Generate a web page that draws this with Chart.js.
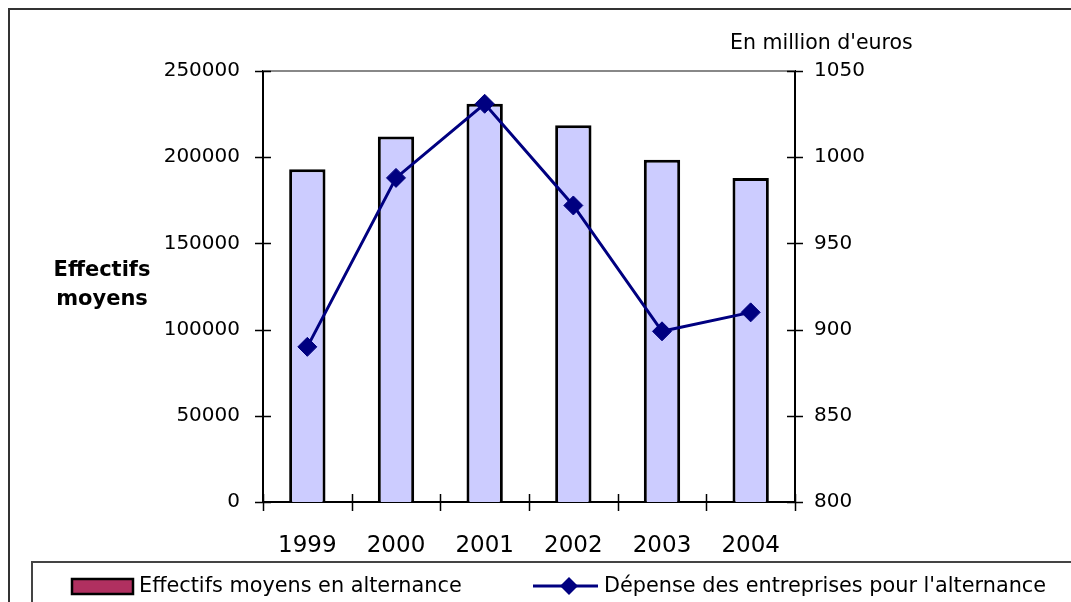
<!DOCTYPE html>
<html>
<head>
<meta charset="utf-8">
<script src="https://cdn.jsdelivr.net/npm/chart.js@4"></script>
<style>
  html, body { margin: 0; padding: 0; background: #fff; }
  #chart { display: block; }
</style>
</head>
<body>
<canvas id="chart" width="1071" height="602"></canvas>
<script>
// data
const years = ["1999", "2000", "2001", "2002", "2003", "2004"];
const effectifs = [193000, 212000, 231000, 218500, 198500, 188000];
const depense = [890, 988, 1031, 972, 899, 910];
const leftTicks = [0, 50000, 100000, 150000, 200000, 250000];
const rightTicks = [800, 850, 900, 950, 1000, 1050];

const FONT = "'DejaVu Sans', sans-serif";
const NAVY = "#000080";

// frame, crossing ticks, titles and the legend box
const decor = {
  id: 'decor',
  afterDraw(chart) {
    const ctx = chart.ctx;
    const a = chart.chartArea;
    const y = chart.scales.y, y1 = chart.scales.y1;
    ctx.save();

    // outer frame
    ctx.strokeStyle = '#333';
    ctx.lineWidth = 2;
    ctx.beginPath();
    ctx.moveTo(9, 602); ctx.lineTo(9, 9); ctx.lineTo(1071, 9);
    ctx.stroke();

    // plot top border
    ctx.strokeStyle = '#888';
    ctx.beginPath();
    ctx.moveTo(a.left, a.top); ctx.lineTo(a.right, a.top);
    ctx.stroke();

    // ticks crossing the axes
    ctx.strokeStyle = '#000';
    ctx.lineWidth = 1.5;
    ctx.beginPath();
    leftTicks.forEach(v => {
      const py = Math.round(y.getPixelForValue(v)) + 0.5;
      ctx.moveTo(a.left - 8, py); ctx.lineTo(a.left + 8, py);
    });
    rightTicks.forEach(v => {
      const py = Math.round(y1.getPixelForValue(v)) + 0.5;
      ctx.moveTo(a.right - 8, py); ctx.lineTo(a.right + 8, py);
    });
    const w = (a.right - a.left) / years.length;
    for (let i = 0; i <= years.length; i++) {
      const px = Math.round(a.left + i * w) + 0.5;
      ctx.moveTo(px, a.bottom - 8); ctx.lineTo(px, a.bottom + 9);
    }
    ctx.stroke();

    // axis titles
    ctx.fillStyle = '#000';
    ctx.textBaseline = 'middle';
    ctx.textAlign = 'center';
    ctx.font = "bold 21px " + FONT;
    ctx.fillText("Effectifs", 102, 271);
    ctx.fillText("moyens", 102, 300);
    ctx.textAlign = 'left';
    ctx.font = "20.5px " + FONT;
    ctx.fillText("En million d'euros", 730, 44);

    // legend box
    ctx.strokeStyle = '#444';
    ctx.lineWidth = 2;
    ctx.beginPath();
    ctx.moveTo(32, 602); ctx.lineTo(32, 562); ctx.lineTo(1071, 562);
    ctx.stroke();

    ctx.fillStyle = '#B03060';
    ctx.fillRect(72, 579, 61, 15);
    ctx.strokeStyle = '#000';
    ctx.lineWidth = 2.5;
    ctx.strokeRect(72, 579, 61, 15);

    ctx.strokeStyle = NAVY;
    ctx.lineWidth = 3;
    ctx.beginPath();
    ctx.moveTo(533, 586); ctx.lineTo(598, 586);
    ctx.stroke();
    ctx.fillStyle = NAVY;
    ctx.beginPath();
    ctx.moveTo(569, 577); ctx.lineTo(578, 586); ctx.lineTo(569, 595); ctx.lineTo(560, 586);
    ctx.closePath();
    ctx.fill();

    ctx.fillStyle = '#000';
    ctx.font = "20.8px " + FONT;
    ctx.fillText("Effectifs moyens en alternance", 139, 587);
    ctx.fillText("Dépense des entreprises pour l'alternance", 604, 587);

    ctx.restore();
  }
};

new Chart(document.getElementById("chart"), {
  type: 'bar',
  data: {
    labels: years,
    datasets: [{
        label: "Dépense des entreprises pour l'alternance",
        type: "line",
        data: depense,
        yAxisID: 'y1',
        borderColor: NAVY,
        backgroundColor: NAVY,
        borderWidth: 3,
        pointStyle: 'rectRot',
        pointRadius: 9.5,
        pointBorderWidth: 1,
        pointBackgroundColor: NAVY,
        tension: 0,
        fill: false,
        order: 0
      }, {
        label: "Effectifs moyens en alternance",
        type: "bar",
        data: effectifs,
        yAxisID: 'y',
        backgroundColor: "#CCCCFF",
        borderColor: "#000",
        borderWidth: 3,
        barPercentage: 0.41,
        categoryPercentage: 1,
        order: 1
      }
    ]
  },
  options: {
    responsive: false,
    animation: false,
    layout: { padding: { top: 71, left: 0, right: 0, bottom: 0 } },
    plugins: {
      legend: { display: false },
      tooltip: { enabled: false }
    },
    scales: {
      x: {
        position: 'bottom',
        offset: true,
        grid: { display: false },
        border: { color: '#000', width: 2 },
        ticks: { color: '#000', font: { family: FONT, size: 23 }, padding: 22 },
        afterFit: s => { s.height = 100; }
      },
      y: {
        position: 'left',
        min: 0, max: 250000,
        afterBuildTicks: s => { s.ticks = leftTicks.map(v => ({ value: v })); },
        grid: { display: false },
        border: { color: '#000', width: 2 },
        ticks: { color: '#000', font: { family: FONT, size: 20 }, padding: 15, callback: v => String(v) },
        afterFit: s => { s.width = 263; }
      },
      y1: {
        position: 'right',
        min: 800, max: 1050,
        afterBuildTicks: s => { s.ticks = rightTicks.map(v => ({ value: v })); },
        grid: { display: false },
        border: { color: '#000', width: 2 },
        ticks: { color: '#000', font: { family: FONT, size: 20 }, padding: 11, callback: v => String(v) },
        afterFit: s => { s.width = 276; }
      }
    }
  },
  plugins: [decor]
});
</script>
</body>
</html>
